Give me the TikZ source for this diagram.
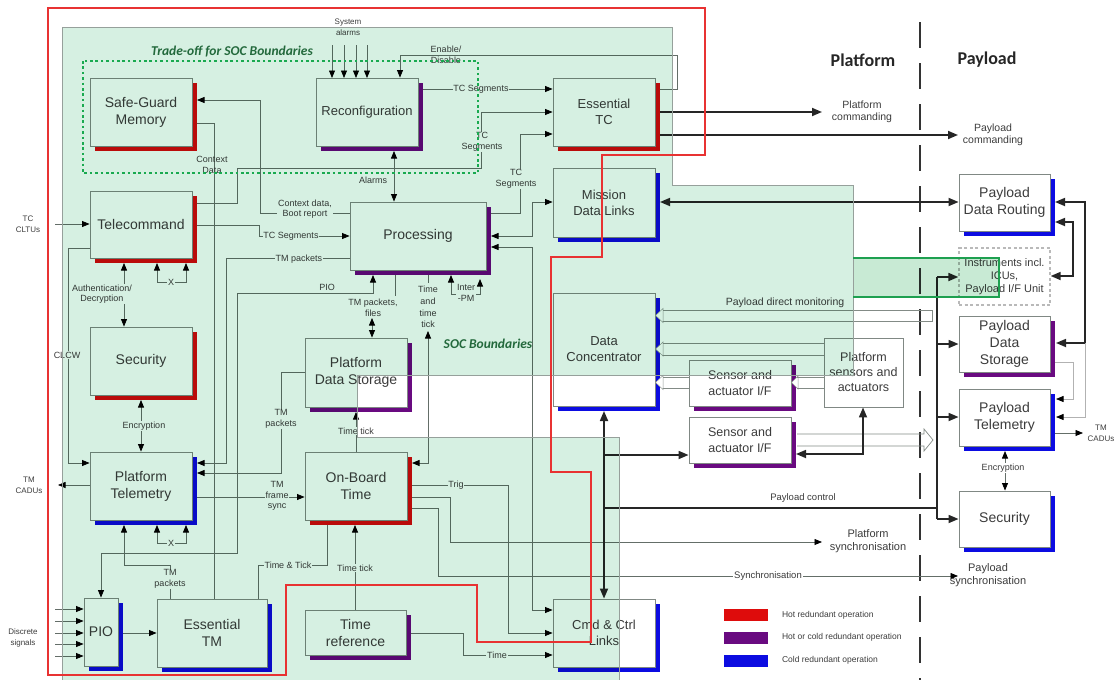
\documentclass[tikz,border=0pt]{standalone}
\usepackage{fontspec}
\setmainfont{Liberation Sans}
\newfontfamily\cfont{Carlito}
\usetikzlibrary{arrows.meta,shadows}
\definecolor{mint}{RGB}{214,240,226}
\definecolor{mintdk}{RGB}{200,234,212}
\definecolor{edgegray}{RGB}{150,160,155}
\definecolor{boxgray}{RGB}{128,136,132}
\definecolor{lngray}{RGB}{100,110,104}
\definecolor{txt}{RGB}{60,60,60}
\definecolor{hot}{RGB}{222,12,12}
\definecolor{hotcold}{RGB}{105,10,128}
\definecolor{cold}{RGB}{12,12,225}
\definecolor{socgreen}{RGB}{35,105,60}
\definecolor{dotgreen}{RGB}{25,170,80}
\definecolor{redl}{RGB}{232,50,50}
\definecolor{insgreen}{RGB}{30,160,80}
\tikzset{
  blk/.style={draw=boxgray,fill=white,line width=0.9pt,inner sep=0pt,align=center,text=txt,font=\fontsize{14}{17}\selectfont},
  shd/.style={general shadow={fill=#1,shadow xshift=5pt,shadow yshift=-5pt}},
  fs13/.style={font=\fontsize{13}{16}\selectfont},
  ln/.style={draw=lngray,line width=0.75pt},
  arr/.style={ln,-{Triangle[length=7.5pt,width=6pt,color=black]}},
  arrb/.style={ln,{Triangle[length=7.5pt,width=6pt,color=black]}-{Triangle[length=7.5pt,width=6pt,color=black]}},
  tk/.style={draw=black!85,line width=1.7pt},
  tkarr/.style={tk,-{Triangle[length=10pt,width=8pt]}},
  tkarrb/.style={tk,{Triangle[length=10pt,width=8pt]}-{Triangle[length=10pt,width=8pt]}},
  lab/.style={font=\fontsize{9}{10.5}\selectfont,text=txt,inner sep=0.8pt,align=center},
  labw/.style={lab,fill=white},
  olab/.style={font=\fontsize{10.5}{12.5}\selectfont,text=txt,inner sep=0pt,align=center},
  band/.style={draw=lngray!80,line width=0.7pt},
}
\begin{document}
\begin{tikzpicture}[x=1pt,y=-1pt]
\useasboundingbox (0,0) rectangle (1117,680);

% dashed Platform/Payload separator
\draw[black!80,line width=2pt,dash pattern=on 26pt off 15pt] (920,22) -- (920,680);

% ---------- boxes ----------
\node[blk,shd=hot,minimum width=102pt,minimum height=68pt] (sgm) at (141,112) {Safe-Guard\\Memory};
\node[blk,fs13,shd=hotcold,minimum width=102pt,minimum height=68pt] (rec) at (367,112) {Reconfiguration};
\node[blk,fs13,shd=hot,minimum width=102pt,minimum height=68pt] (etc) at (604,112) {Essential\\TC};
\node[blk,shd=hot,minimum width=102pt,minimum height=67pt] (tcm) at (141,224.5) {Telecommand};
\node[blk,fs13,shd=cold,minimum width=102pt,minimum height=69pt] (mdl) at (604,202.5) {Mission\\Data Links};
\node[blk,shd=hotcold,minimum width=136pt,minimum height=68pt] (proc) at (418,236) {Processing};
\node[blk,shd=hot,minimum width=102pt,minimum height=68pt] (secl) at (141,361) {Security};
\node[blk,shd=hotcold,minimum width=102pt,minimum height=69pt] (pds) at (356,372.5) {Platform\\Data Storage};
\node[blk,fs13,shd=cold,minimum width=102pt,minimum height=113pt] (dc) at (604,349.5) {Data\\Concentrator};
\node[blk,shd=hotcold,font=\fontsize{12.5}{16}\selectfont,minimum width=102pt,minimum height=46pt] (saif1) at (740,383) {Sensor and\\actuator I/F};
\node[blk,shd=hotcold,font=\fontsize{12.5}{16}\selectfont,minimum width=102pt,minimum height=46pt] (saif2) at (740,440) {Sensor and\\actuator I/F};
\node[blk,font=\fontsize{12.5}{15}\selectfont,minimum width=79pt,minimum height=69pt] (psa) at (863.5,372.5) {Platform\\sensors and\\actuators};
\node[blk,shd=cold,minimum width=102pt,minimum height=68pt] (pt) at (141,486) {Platform\\Telemetry};
\node[blk,shd=hot,minimum width=102pt,minimum height=68pt] (obt) at (356,486) {On-Board\\Time};
\node[blk,shd=cold,minimum width=34pt,minimum height=68pt] (pio) at (101,632) {PIO};
\node[blk,shd=cold,minimum width=110pt,minimum height=68pt] (etm) at (212,633) {Essential\\TM};
\node[blk,shd=hotcold,minimum width=101pt,minimum height=45pt] (tref) at (355.5,632.5) {Time\\reference};
\node[blk,fs13,shd=cold,minimum width=102pt,minimum height=68pt] (ccl) at (604,633) {Cmd \& Ctrl\\Links};
\node[blk,shd=cold,minimum width=91pt,minimum height=57pt] (pdr) at (1004.5,202.5) {Payload\\Data Routing};
\node[blk,draw=gray!55,dash pattern=on 3pt off 2.5pt,line width=1.3pt,font=\fontsize{11}{13}\selectfont,minimum width=91pt,minimum height=57pt] (ins) at (1004.5,276.5) {Instruments incl.\\ICUs,\\Payload I/F Unit};
\node[blk,shd=hotcold,minimum width=91pt,minimum height=56pt] (pyds) at (1004.5,344) {Payload\\Data\\Storage};
\node[blk,shd=cold,minimum width=91pt,minimum height=57pt] (pytm) at (1004.5,417.5) {Payload\\Telemetry};
\node[blk,shd=cold,minimum width=91pt,minimum height=56pt] (pysec) at (1004.5,519) {Security};

% notches (hollow arrow heads) on shadows
\foreach \yc in {315.5,349,382.5}{
  \filldraw[fill=white,draw=lngray!70,line width=0.5pt] (655.5,\yc) -- (663,\yc-7) -- (663,\yc+7) -- cycle;}
\filldraw[fill=white,draw=lngray!70,line width=0.5pt] (791.5,382.5) -- (798,376) -- (798,389) -- cycle;

% ---------- hollow bands ----------
\draw[band] (663,310) -- (932,310) -- (932,321) -- (663,321);
\draw[band] (663,343) -- (psa.west |- 0,343);
\draw[band] (663,355) -- (psa.west |- 0,355);
\draw[band] (663,377) -- (saif1.west |- 0,377);
\draw[band] (663,388) -- (saif1.west |- 0,388);
\draw[band] (797,377) -- (psa.west |- 0,377);
\draw[band] (797,388) -- (psa.west |- 0,388);
\draw[band] (797,434) -- (924,434) -- (924,429) -- (933,440) -- (924,451) -- (924,446) -- (797,446);

% ---------- thin connectors ----------
\node[lab,font=\fontsize{8}{11.5}\selectfont] (lsys) at (348,27) {System\\alarms};
\foreach \x in {332,344,356,367}{\draw[arr] (\x,45) -- (\x,78);}
\draw[arr] (660,89) -- (677,89) -- (677,55) -- (400,55) -- (rec.north -| 400,0);
\node[lab] (len) at (446,55) {Enable/\\[1pt]Disable};
\draw[arr] (423,89) -- (etc.west |- 0,89);
\node[labw] (ltc1) at (481,89) {TC Segments};
\draw[arr] (197,203) -- (237,203) -- (237,168) -- (481,168) -- (481,112) -- (etc.west |- 0,112);
\node[labw] (ltc2) at (482,142) {TC\\Segments};
\draw[arr] (491,213) -- (520,213) -- (520,134) -- (etc.west |- 0,134);
\node[labw] (ltc3) at (516,179) {TC\\Segments};
\draw[arrb] (mdl.west |- 0,202) -- (532,202) -- (532,236) -- (491,236);
\draw[arrb] (491,247) -- (532,247) -- (532,610) -- (ccl.west |- 0,610);
\draw[arrb] (394,151) -- (proc.north -| 394,0);
\node[lab] (lal) at (373,180) {Alarms};
\draw[arr] (proc.west |- 0,213) -- (260,213) -- (260,100) -- (197,100);
\node[labw] (lctx) at (305,209) {Context data,\\Boot report};
\draw[ln] (etm.north -| 214,0) -- (214,123) -- (197,123);
\node[lab] (lcd) at (212,165) {Context\\Data};
\draw[arr] (55,224) -- (tcm.west |- 0,224);
\node[lab,font=\fontsize{8}{11}\selectfont] (ltcc) at (28,224) {TC\\CLTUs};
\draw[arr] (197,225) -- (259,225) -- (259,236) -- (proc.west |- 0,236);
\node[labw] (ltc4) at (291,236) {TC Segments};
\draw[arr] (proc.west |- 0,258) -- (226,258) -- (226,463) -- (197,463);
\node[labw] (ltmp1) at (299,259) {TM packets};
\draw[arrb] (373,275) -- (373,293) -- (237,293) -- (237,553) -- (101,553) -- (pio.north -| 101,0);
\node[lab] (lpio) at (327,287) {PIO};
\draw[arrb] (395,275) -- (395,296) (372,318) -- (pds.north -| 372,0);
\node[lab] (ltmf) at (373,308) {TM packets,\\files};
\draw[arrb] (428,275) -- (428,283) (428,331) -- (428,463) -- (412,463);
\node[lab,font=\fontsize{9}{11.7}\selectfont] (ltime) at (428,307) {Time\\and\\time\\tick};
\draw[arrb] (451,275) -- (451,294) -- (480,294) -- (480,279);
\node[labw] (linter) at (466,293) {Inter\\-PM};
\draw[arrb] (124,263) -- (secl.north -| 124,0);
\node[labw] (lauth) at (102,294) {Authentication/\\Decryption};
\draw[arrb] (157,263) -- (157,282) -- (186,282) -- (186,263);
\node[labw] (lx1) at (171,282) {X};
\draw[arr] (tcm.west |- 0,248) -- (68,248) -- (68,463) -- (pt.west |- 0,463);
\node[labw] (lclcw) at (67,355) {CLCW};
\draw[arrb] (141,400) -- (pt.north -| 141,0);
\node[labw] (lenc1) at (144,426) {Encryption};
\draw[arr] (pt.west |- 0,485) -- (58,485);
\node[lab,font=\fontsize{8}{11}\selectfont] (ltmc) at (29,485) {TM\\CADUs};
\draw[arr] (197,497) -- (obt.west |- 0,497);
\node[labw] (lfs) at (277,496) {TM\\frame\\sync};
\draw[arr] (pds.west |- 0,372) -- (281,372) -- (281,473) -- (197,473);
\node[labw] (ltmp2) at (281,419) {TM\\packets};
\draw[arrb] (157,525) -- (157,543) -- (186,543) -- (186,525);
\node[labw] (lx2) at (171,543) {X};
\draw[arr] (etm.north -| 170,0) -- (170,565) -- (124,565) -- (124,525);
\node[labw] (ltmp3) at (170,579) {TM\\packets};
\foreach \y in {609,621,633,644,656}{\draw[arr] (55,\y) -- (pio.west |- 0,\y);}
\node[lab,font=\fontsize{8}{11}\selectfont] (ldis) at (23,638) {Discrete\\signals};
\draw[arr] (123,633) -- (etm.west |- 0,633);
\draw[ln] (etm.north -| 258,0) -- (258,565) -- (327,565) -- (327,525);
\node[labw] (ltt) at (288,565) {Time \& Tick};
\draw[arr] (tref.north -| 355,0) -- (355,525);
\node[labw] (ltick1) at (355,568) {Time tick};
\draw[arr] (obt.north -| 356,0) -- (356,412);
\node[labw] (ltick2) at (356,431) {Time tick};
\draw[arr] (412,485) -- (508,485) -- (508,633) -- (ccl.west |- 0,633);
\node[labw] (ltrig) at (456,485) {Trig};
\draw[arr] (412,497) -- (450,497) -- (450,542) -- (822,542);
\node[olab,font=\fontsize{11}{13}\selectfont] (lpsync) at (868,541) {Platform\\synchronisation};
\draw[arr] (412,508) -- (438,508) -- (438,576) -- (958,576);
\node[labw,font=\fontsize{9.5}{11}\selectfont] (lsync) at (768,576) {Synchronisation};
\node[olab,font=\fontsize{11}{13}\selectfont] (lpysync) at (988,575) {Payload\\synchronisation};
\draw[arr] (411,633) -- (463,633) -- (463,655) -- (ccl.west |- 0,655);
\node[labw] (ltm) at (497,655) {Time};
\node[olab,font=\fontsize{10.5}{12}\selectfont] (lpdm) at (785,303) {Payload direct monitoring};

% ---------- thick connectors ----------
\draw[tkarr] (660,112) -- (822,112);
\node[olab] (lpc) at (862,112) {Platform\\commanding};
\draw[tkarr] (660,135) -- (958,135);
\node[olab] (lyc) at (993,135) {Payload\\commanding};
\draw[tkarrb] (660,202) -- (pdr.west |- 0,202);
\draw[tkarrb] (604,411) -- (ccl.north -| 604,0);
\draw[tkarr] (604,455) -- (saif2.west |- 0,455);
\draw[tk] (604,508) -- (937,508);
\draw[tk] (937,277) -- (937,519);
\draw[tkarr] (937,277) -- (ins.west |- 0,277);
\draw[tkarr] (937,344) -- (pyds.west |- 0,344);
\draw[tkarr] (937,417) -- (pytm.west |- 0,417);
\draw[tkarr] (937,519) -- (pysec.west |- 0,519);
\node[lab,font=\fontsize{9.5}{11}\selectfont] (lpyc) at (803,498) {Payload control};
\draw[tkarrb] (796,454) -- (863,454) -- (psa.south -| 863,0);
\draw[tkarrb] (1055,222) -- (1073,222) -- (1073,276) -- (ins.east |- 0,276);
\draw[tkarrb] (1055,202) -- (1085,202) -- (1085,343) -- (1056,343);
\draw[arr,draw=gray!60] (1055,362) -- (1073,362) -- (1073,399) -- (1056,399);
\draw[arr,draw=gray!60] (1085,343) -- (1085,417) -- (1056,417);
\draw[arr] (1055,433) -- (1083,433);
\node[lab,font=\fontsize{8}{11}\selectfont] (ltmc2) at (1101,433) {TM\\CADUs};
\draw[arrb] (1005,451) -- (pysec.north -| 1005,0);
\node[labw] (lenc2) at (1003,468) {Encryption};

% ---------- SOC region overlay ----------
\begin{scope}[blend mode=multiply]
\fill[mint] (62,27) -- (672,27) -- (672,185) -- (853,185) -- (853,375) -- (357,375) -- (357,437) -- (619,437) -- (619,680) -- (62,680) -- cycle;
\fill[mintdk] (853,258) rectangle (999,297);
\end{scope}
\draw[edgegray,line width=0.9pt] (62,680) -- (62,27) -- (672,27) -- (672,185) -- (853,185) -- (853,375) -- (357,375) -- (357,437) -- (619,437) -- (619,680);
\draw[insgreen,line width=1.1pt] (853,258) -- (999,258) -- (999,297) -- (853,297);

% trade-off dotted boundary
\draw[dotgreen,line width=2.2pt,dash pattern=on 2.6pt off 2.8pt] (83,61) rectangle (478,173);
\node[text=socgreen,font=\cfont\bfseries\itshape\fontsize{13.5}{15}\selectfont,inner sep=0pt] (ltrade) at (232,52) {Trade-off for SOC Boundaries};
\node[text=socgreen,font=\cfont\bfseries\itshape\fontsize{13.5}{15}\selectfont,inner sep=0pt] (lsoc) at (488,344) {SOC Boundaries};

% hot redundancy red boundary
\draw[redl,line width=1.4pt] (48,8) -- (705,8) -- (705,155) -- (602,155) -- (602,257) -- (551,257) -- (551,472) -- (591,472) -- (591,642) -- (477,642) -- (477,585) -- (286,585) -- (286,675) -- (48,675) -- cycle;

% headings
\node[font=\cfont\bfseries\fontsize{18}{20}\selectfont,text=black!85] (hplat) at (863,60) {Platform};
\node[font=\cfont\bfseries\fontsize{18}{20}\selectfont,text=black!85] (hpay) at (987,60) {Payload};

% legend
\node[fill=hot,minimum width=44pt,minimum height=12pt,inner sep=0pt] (lg1) at (745.5,615) {};
\node[fill=hotcold,minimum width=44pt,minimum height=12pt,inner sep=0pt] (lg2) at (745.5,637.5) {};
\node[fill=cold,minimum width=44pt,minimum height=12pt,inner sep=0pt] (lg3) at (745.5,660.5) {};
\node[lab,anchor=west,font=\fontsize{8.5}{10}\selectfont] (lgt1) at (781,615) {Hot redundant operation};
\node[lab,anchor=west,font=\fontsize{8.5}{10}\selectfont] (lgt2) at (781,637.5) {Hot or cold redundant operation};
\node[lab,anchor=west,font=\fontsize{8.5}{10}\selectfont] (lgt3) at (781,660.5) {Cold redundant operation};
\end{tikzpicture}
\end{document}
